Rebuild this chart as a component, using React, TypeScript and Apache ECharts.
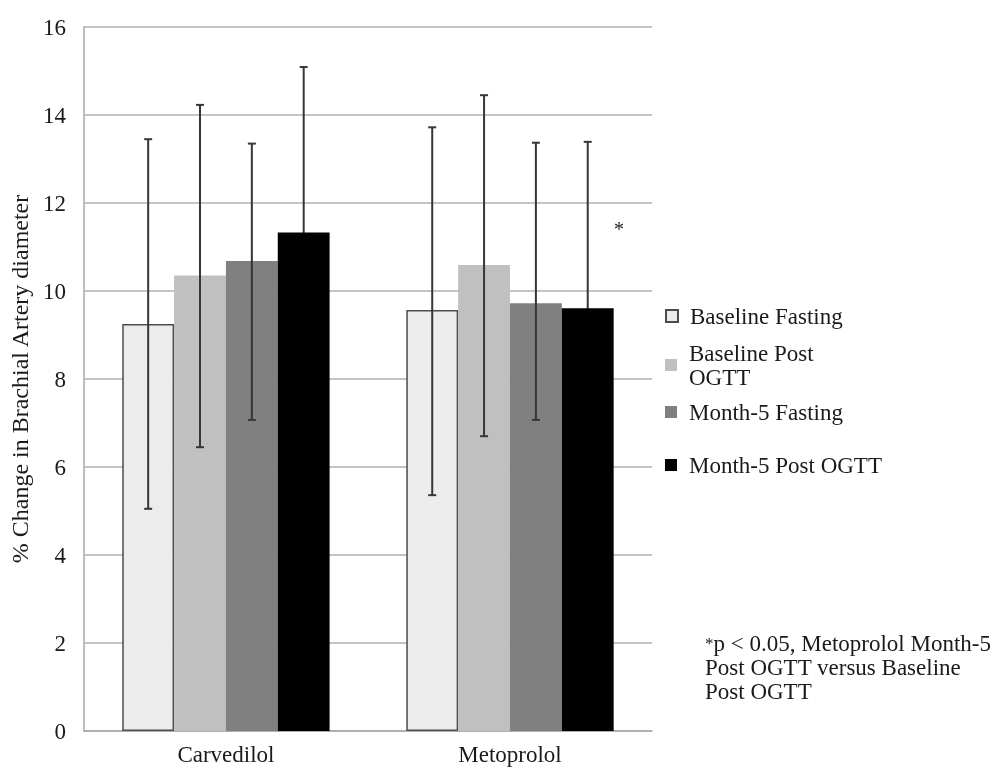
import React, { useEffect, useRef } from "react";
import * as echarts from "echarts";

const categories = ["Carvedilol", "Metoprolol"];
const seriesNames = ["Baseline Fasting", "Baseline Post OGTT", "Month-5 Fasting", "Month-5 Post OGTT"];
const baselineFasting = [9.25, 9.57];
const baselinePostOGTT = [10.35, 10.59];
const month5Fasting = [10.68, 9.72];
const month5PostOGTT = [11.33, 9.61];
// error bar bounds (low, high) per series
const baselineFastingLow = [5.05, 5.36];
const baselineFastingHigh = [13.45, 13.72];
const baselinePostLow = [6.45, 6.7];
const baselinePostHigh = [14.23, 14.45];
const month5FastingLow = [7.07, 7.07];
const month5FastingHigh = [13.35, 13.37];
const month5PostLow = [7.57, 5.83];
const month5PostHigh = [15.09, 13.39];
const yTicks = { min: 0, max: 16, interval: 2 };
const footnote = ["{s|*}p < 0.05, Metoprolol Month-5", "Post OGTT versus Baseline", "Post OGTT"];

const FONT = "Liberation Serif";
const TEXT = "#1a1a1a";
const GAP = 0.27;

export default function App() {
  const ref = useRef<HTMLDivElement>(null);
  useEffect(() => {
    if (!ref.current) return;
    const chart = echarts.init(ref.current, null, { renderer: "svg" });
    const values = [baselineFasting, baselinePostOGTT, month5Fasting, month5PostOGTT];
    const lows = [baselineFastingLow, baselinePostLow, month5FastingLow, month5PostLow];
    const highs = [baselineFastingHigh, baselinePostHigh, month5FastingHigh, month5PostHigh];
    const colors = ["#ececec", "#c0c0c0", "#808080", "#000000"];
    const errFront: number[][] = [];
    const errBack: number[][] = [];
    for (let k = 0; k < 4; k++) {
      for (let c = 0; c < categories.length; c++) {
        (k === 3 ? errBack : errFront).push([c, lows[k][c], highs[k][c], k]);
      }
    }
    const renderErr = (params: any, api: any) => {
      const c = api.value(0);
      const k = api.value(3);
      const band = api.size([1, 0])[0];
      const bw = (band * (1 - GAP)) / 4;
      const center = api.coord([c, 0])[0];
      const x = center + (k - 1.5) * bw;
      const yLow = api.coord([c, api.value(1)])[1];
      const yHigh = api.coord([c, api.value(2)])[1];
      const style = { stroke: "#363636", lineWidth: 2 };
      const cap = 4;
      return {
        type: "group",
        children: [
          { type: "line", shape: { x1: x, y1: yLow, x2: x, y2: yHigh }, style },
          { type: "line", shape: { x1: x - cap, y1: yHigh, x2: x + cap, y2: yHigh }, style },
          { type: "line", shape: { x1: x - cap, y1: yLow, x2: x + cap, y2: yLow }, style },
        ],
      };
    };
    const legendTops = [304, 329, 400, 453];
    chart.setOption({
      animation: false,
      grid: { left: 78, right: 340, top: 27, bottom: 42 },
      xAxis: {
        type: "category",
        data: categories,
        axisTick: { show: false },
        axisLine: { lineStyle: { color: "#a8a8a8", width: 1.5 } },
        axisLabel: { fontFamily: FONT, fontSize: 23, color: TEXT, margin: 12 },
      },
      yAxis: {
        type: "value",
        min: yTicks.min,
        max: yTicks.max,
        interval: yTicks.interval,
        name: "% Change in Brachial Artery diameter",
        nameLocation: "middle",
        nameRotate: 90,
        nameGap: 48,
        nameTextStyle: { fontFamily: FONT, fontSize: 24, color: TEXT },
        axisLine: { show: true, lineStyle: { color: "#a8a8a8", width: 1.5 } },
        axisTick: { show: false },
        splitLine: { lineStyle: { color: "#b0b0b0", width: 1.5 } },
        axisLabel: { fontFamily: FONT, fontSize: 23, color: TEXT, margin: 18 },
      },
      legend: seriesNames.map((name, i) => ({
        data: [name],
        orient: "vertical",
        left: 665,
        top: legendTops[i],
        padding: 0,
        itemWidth: 12,
        itemHeight: 12,
        icon: "rect",
        selectedMode: false,
        formatter: (n: string) => (n === "Baseline Post OGTT" ? "Baseline Post\nOGTT" : n),
        textStyle: {
          fontFamily: FONT,
          fontSize: 23,
          color: TEXT,
          lineHeight: 24,
          padding: i === 1 ? [24, 0, 0, 7] : [0, 0, 0, 7],
        },
      })),
      series: [
        ...seriesNames.map((name, k) => ({
          name,
          type: "bar",
          z: 2,
          data: values[k],
          barGap: "0%",
          barCategoryGap: GAP * 100 + "%",
          itemStyle: {
            color: colors[k],
            borderColor: k === 0 ? "#4d4d4d" : colors[k],
            borderWidth: k === 0 ? 1.5 : 0,
          },
        })),
        { type: "custom", z: 5, encode: { x: 0, y: [1, 2] }, data: errFront, renderItem: renderErr },
        { type: "custom", z: 1, encode: { x: 0, y: [1, 2] }, data: errBack, renderItem: renderErr },
      ],
      graphic: [
        {
          type: "text",
          left: 614,
          top: 219,
          style: { text: "*", font: `20px "${FONT}"`, fill: TEXT },
        },
        {
          type: "text",
          left: 705,
          top: 631,
          style: {
            text: footnote.join("\n"),
            font: `23px "${FONT}"`,
            lineHeight: 24,
            fill: TEXT,
            rich: { s: { fontSize: 17, fontFamily: FONT, lineHeight: 24, fill: TEXT } },
          },
        },
      ],
    });
    return () => chart.dispose();
  }, []);
  return <div ref={ref} style={{ position: "fixed", left: 0, top: 0, width: 992, height: 773 }} />;
}
